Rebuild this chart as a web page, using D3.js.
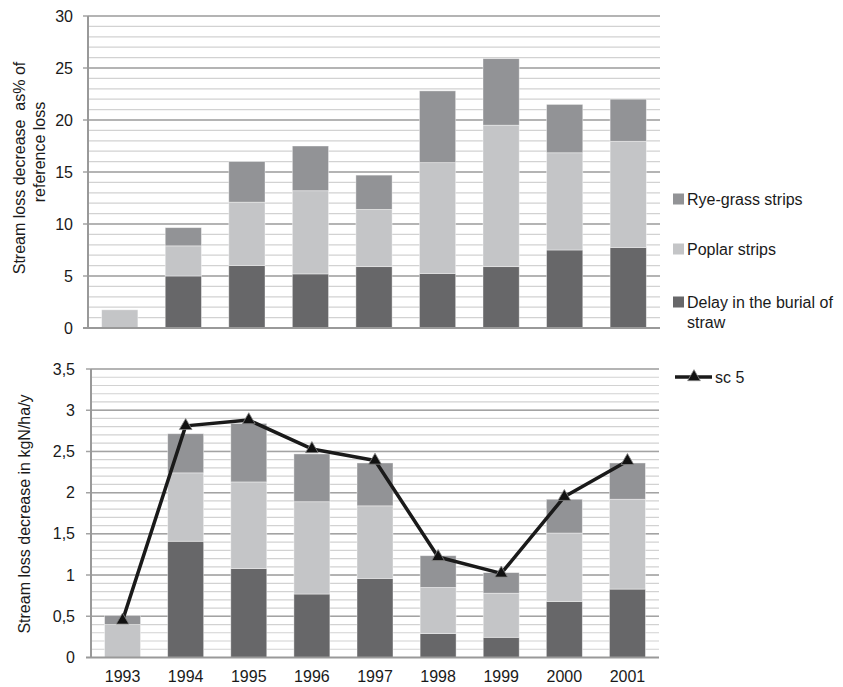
<!DOCTYPE html>
<html>
<head>
<meta charset="utf-8">
<script src="https://cdn.jsdelivr.net/npm/d3@7"></script>
<style>
  body { margin: 0; background: #fff; }
  text { font-family: "Liberation Sans", Arial, sans-serif; fill: #1a1a1a; }
  .minor { stroke: #d2d2d2; stroke-width: 1.2; }
  .major { stroke: #a3a3a3; stroke-width: 1.5; }
  .axisline { stroke: #999; stroke-width: 2; }
</style>
</head>
<body>
<div id="canvas"></div>
<script>
// categories and series
var years = ['1993','1994','1995','1996','1997','1998','1999','2000','2001'];
var seriesNames = ['Delay in the burial of straw','Poplar strips','Rye-grass strips'];
var seriesColors = ['#676769','#c4c5c7','#929396'];

// top panel: % of reference loss
var pctDelay  = [0, 5.0, 6.0, 5.2, 5.9, 5.25, 5.9, 7.5, 7.75];
var pctPoplar = [1.75, 2.9, 6.1, 8.0, 5.5, 10.65, 13.6, 9.35, 10.2];
var pctRye    = [0, 1.75, 3.9, 4.3, 3.3, 6.9, 6.4, 4.65, 4.05];
var pctTicks  = [0, 5, 10, 15, 20, 25, 30];

// bottom panel: kgN/ha/y
var kgDelay  = [0, 1.41, 1.08, 0.77, 0.96, 0.29, 0.245, 0.68, 0.83];
var kgPoplar = [0.4, 0.83, 1.05, 1.12, 0.88, 0.56, 0.535, 0.83, 1.09];
var kgRye    = [0.11, 0.475, 0.71, 0.58, 0.52, 0.385, 0.25, 0.41, 0.44];
var kgSc5    = [0.45, 2.81, 2.88, 2.53, 2.39, 1.22, 1.02, 1.95, 2.385];
var kgTicks  = [0, 0.5, 1, 1.5, 2, 2.5, 3, 3.5];

var W = 843, H = 687;
var svg = d3.select('#canvas').append('svg')
    .attr('width', W).attr('height', H);

function panel(opt){
    var x = d3.scaleBand().domain(years)
        .range([opt.x0, opt.x1]).paddingInner(0.43).paddingOuter(0.215);
    var y = d3.scaleLinear().domain([0, opt.max]).range([opt.y0, opt.y1]);
    var g = svg.append('g');

    // gridlines, minor then major
    var minors = d3.range(0, opt.max + opt.minor/2, opt.minor);
    g.selectAll('.minor').data(minors).enter().append('line')
        .attr('class','minor')
        .attr('x1', opt.x0).attr('x2', opt.x1)
        .attr('y1', function(d){ return y(d); })
        .attr('y2', function(d){ return y(d); });
    g.selectAll('.major').data(opt.ticks.slice(1)).enter().append('line')
        .attr('class','major')
        .attr('x1', opt.x0 - 5).attr('x2', opt.x1)
        .attr('y1', function(d){ return y(d); })
        .attr('y2', function(d){ return y(d); });

    // stacked bars
    var rows = years.map(function(yr, i){
        var o = {year: yr};
        o[seriesNames[0]] = opt.data[0][i];
        o[seriesNames[1]] = opt.data[1][i];
        o[seriesNames[2]] = opt.data[2][i];
        return o;
    });
    var stack = d3.stack().keys(seriesNames)(rows);
    stack.forEach(function(layer, k){
        g.selectAll('.s' + k).data(layer).enter().append('rect')
            .attr('x', function(d){ return x(d.data.year); })
            .attr('width', x.bandwidth())
            .attr('y', function(d){ return y(d[1]); })
            .attr('height', function(d){ return y(d[0]) - y(d[1]); })
            .style('fill', seriesColors[k])
            .style('stroke', '#fff').style('stroke-opacity', 0.5).style('stroke-width', 0.8);
    });

    // axis lines
    g.append('line').attr('class','axisline')
        .attr('x1', opt.x0).attr('x2', opt.x0).attr('y1', opt.y0).attr('y2', opt.y1);
    g.append('line').attr('class','axisline')
        .attr('x1', opt.x0 - 5).attr('x2', opt.x1).attr('y1', opt.y0).attr('y2', opt.y0);

    // tick labels
    var yAxis = d3.axisLeft(y).tickValues(opt.ticks).tickSize(0).tickPadding(opt.pad)
        .tickFormat(function(d){ return String(d).replace('.', ','); });
    var ax = g.append('g').attr('transform', 'translate(' + opt.x0 + ',0)').call(yAxis);
    ax.select('.domain').remove();
    ax.selectAll('text').style('font-size', '16px')
        .style('font-family', '"Liberation Sans", Arial, sans-serif').style('fill', '#1a1a1a');

    return {x: x, y: y, g: g};
}

var top = panel({x0: 88, x1: 660, y0: 328, y1: 16, max: 30, minor: 1,
    ticks: pctTicks, pad: 15, data: [pctDelay, pctPoplar, pctRye]});

var bot = panel({x0: 91, x1: 659, y0: 657.5, y1: 369, max: 3.5, minor: 0.1,
    ticks: kgTicks, pad: 16, data: [kgDelay, kgPoplar, kgRye]});

// x labels on the bottom panel
bot.g.selectAll('.xl').data(years).enter().append('text')
    .attr('x', function(d){ return bot.x(d) + bot.x.bandwidth()/2; })
    .attr('y', 682)
    .attr('text-anchor', 'middle')
    .style('font-size', '16px')
    .text(function(d){ return d; });

// sc 5 line
var line = d3.line()
    .x(function(d, i){ return bot.x(years[i]) + bot.x.bandwidth()/2; })
    .y(function(d){ return bot.y(d); });
bot.g.append('path').datum(kgSc5)
    .attr('d', line)
    .style('fill', 'none').style('stroke', '#1a1a1a').style('stroke-width', 3.5)
    .style('stroke-linejoin', 'round');
var tri = d3.symbol().type(d3.symbolTriangle).size(70);
bot.g.selectAll('.mk').data(kgSc5).enter().append('path')
    .attr('d', tri)
    .attr('transform', function(d, i){
        return 'translate(' + (bot.x(years[i]) + bot.x.bandwidth()/2) + ',' + bot.y(d) + ')';
    })
    .style('fill', '#111').style('stroke', '#888').style('stroke-width', 0.8);

// y axis titles
svg.append('text')
    .attr('transform', 'translate(25,168) rotate(-90)')
    .attr('text-anchor', 'middle').style('font-size', '16px')
    .style('white-space', 'pre')
    .text('Stream loss decrease  as% of');
svg.append('text')
    .attr('transform', 'translate(45,152) rotate(-90)')
    .attr('text-anchor', 'middle').style('font-size', '16px')
    .text('reference loss');
svg.append('text')
    .attr('transform', 'translate(30,514) rotate(-90)')
    .attr('text-anchor', 'middle').style('font-size', '16px')
    .text('Stream loss decrease in kgN/ha/y');

// legend for bars
var legY = [199, 249, 302];
var legOrder = [2, 1, 0];
legOrder.forEach(function(k, j){
    svg.append('rect')
        .attr('x', 673).attr('y', legY[j] - 5.5)
        .attr('width', 11).attr('height', 11)
        .style('fill', seriesColors[k]);
});
svg.append('text').attr('x', 687).attr('y', 199).attr('dy', '0.35em')
    .style('font-size', '16px').text('Rye-grass strips');
svg.append('text').attr('x', 687).attr('y', 249).attr('dy', '0.35em')
    .style('font-size', '16px').text('Poplar strips');
svg.append('text').attr('x', 687).attr('y', 302).attr('dy', '0.35em')
    .style('font-size', '16px').text('Delay in the burial of');
svg.append('text').attr('x', 687).attr('y', 322).attr('dy', '0.35em')
    .style('font-size', '16px').text('straw');

// legend for line
svg.append('line').attr('x1', 675).attr('x2', 712).attr('y1', 377).attr('y2', 377)
    .style('stroke', '#1a1a1a').style('stroke-width', 3.5);
svg.append('path').attr('d', tri).attr('transform', 'translate(694,377)')
    .style('fill', '#111').style('stroke', '#888').style('stroke-width', 0.8);
svg.append('text').attr('x', 715).attr('y', 377).attr('dy', '0.35em')
    .style('font-size', '16px').text('sc 5');
</script>
</body>
</html>
